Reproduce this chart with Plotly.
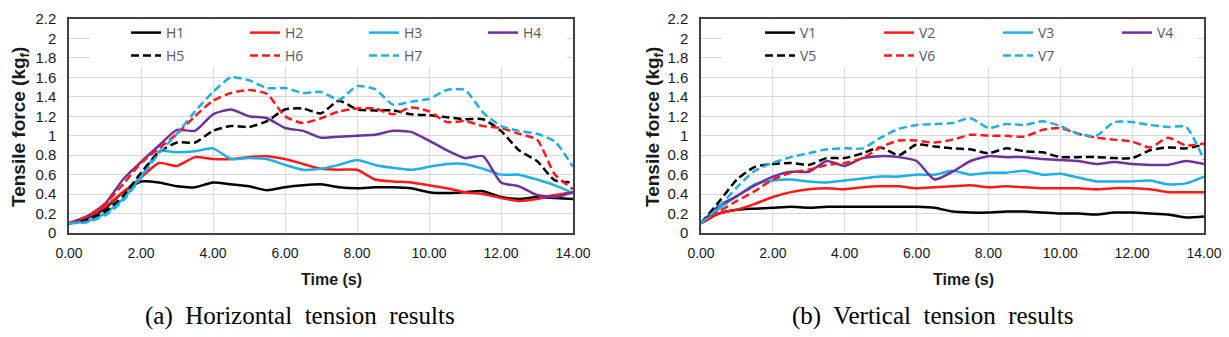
import plotly.graph_objects as go

# ---------------- data ----------------
T = [0.0, 0.5, 1.0, 1.5, 2.0, 2.5, 3.0, 3.5, 4.0, 4.5, 5.0, 5.5, 6.0, 6.5, 7.0,
     7.5, 8.0, 8.5, 9.0, 9.5, 10.0, 10.5, 11.0, 11.5, 12.0, 12.5, 13.0, 13.5, 14.0]

H1 = [0.10, 0.15, 0.25, 0.42, 0.53, 0.52, 0.48, 0.47, 0.52, 0.50, 0.48, 0.44, 0.47, 0.49, 0.50,
      0.47, 0.46, 0.47, 0.47, 0.46, 0.42, 0.41, 0.42, 0.43, 0.37, 0.35, 0.37, 0.36, 0.35]
H2 = [0.10, 0.16, 0.27, 0.42, 0.57, 0.72, 0.69, 0.78, 0.76, 0.76, 0.78, 0.79, 0.76, 0.71, 0.66,
      0.65, 0.65, 0.55, 0.53, 0.52, 0.49, 0.46, 0.42, 0.40, 0.36, 0.33, 0.35, 0.39, 0.42]
H3 = [0.10, 0.12, 0.20, 0.35, 0.58, 0.84, 0.83, 0.84, 0.87, 0.76, 0.77, 0.76, 0.70, 0.65, 0.66,
      0.70, 0.75, 0.70, 0.67, 0.65, 0.68, 0.71, 0.71, 0.66, 0.60, 0.60, 0.55, 0.49, 0.41]
H4 = [0.10, 0.17, 0.30, 0.55, 0.73, 0.90, 1.06, 1.05, 1.22, 1.27, 1.20, 1.18, 1.08, 1.05, 0.98,
      0.99, 1.00, 1.01, 1.05, 1.04, 0.95, 0.85, 0.77, 0.79, 0.52, 0.48, 0.39, 0.37, 0.42]
H5 = [0.10, 0.14, 0.22, 0.38, 0.62, 0.83, 0.93, 0.93, 1.05, 1.10, 1.09, 1.15, 1.27, 1.28, 1.23,
      1.36, 1.27, 1.26, 1.26, 1.22, 1.21, 1.19, 1.17, 1.17, 1.05, 0.85, 0.74, 0.54, 0.52]
H6 = [0.10, 0.17, 0.30, 0.50, 0.72, 0.87, 1.02, 1.20, 1.36, 1.44, 1.47, 1.43, 1.20, 1.13, 1.18,
      1.25, 1.28, 1.28, 1.22, 1.29, 1.25, 1.14, 1.15, 1.10, 1.08, 1.02, 0.96, 0.60, 0.45]
H7 = [0.10, 0.11, 0.18, 0.33, 0.57, 0.82, 1.02, 1.25, 1.45, 1.60, 1.57, 1.49, 1.49, 1.44, 1.45,
      1.37, 1.51, 1.48, 1.32, 1.35, 1.38, 1.47, 1.47, 1.24, 1.10, 1.05, 1.02, 0.94, 0.68]

V1 = [0.10, 0.20, 0.24, 0.25, 0.26, 0.27, 0.26, 0.27, 0.27, 0.27, 0.27, 0.27, 0.27, 0.26, 0.22,
      0.21, 0.21, 0.22, 0.22, 0.21, 0.20, 0.20, 0.19, 0.21, 0.21, 0.20, 0.19, 0.16, 0.17]
V2 = [0.10, 0.20, 0.24, 0.30, 0.37, 0.42, 0.45, 0.46, 0.45, 0.47, 0.48, 0.48, 0.46, 0.47, 0.48,
      0.49, 0.47, 0.48, 0.47, 0.46, 0.46, 0.46, 0.45, 0.46, 0.46, 0.45, 0.42, 0.42, 0.42]
V3 = [0.10, 0.25, 0.38, 0.50, 0.54, 0.55, 0.53, 0.52, 0.54, 0.56, 0.58, 0.58, 0.60, 0.60, 0.64,
      0.60, 0.62, 0.62, 0.64, 0.60, 0.61, 0.57, 0.53, 0.53, 0.53, 0.54, 0.50, 0.51, 0.58]
V4 = [0.10, 0.28, 0.38, 0.49, 0.58, 0.63, 0.63, 0.74, 0.69, 0.77, 0.79, 0.78, 0.74, 0.55, 0.63,
      0.74, 0.79, 0.78, 0.78, 0.76, 0.75, 0.74, 0.71, 0.73, 0.71, 0.70, 0.70, 0.74, 0.71]
V5 = [0.10, 0.32, 0.55, 0.68, 0.71, 0.72, 0.70, 0.77, 0.77, 0.82, 0.88, 0.80, 0.91, 0.89, 0.87,
      0.86, 0.82, 0.87, 0.84, 0.83, 0.78, 0.78, 0.78, 0.77, 0.77, 0.85, 0.88, 0.87, 0.91]
V6 = [0.10, 0.22, 0.33, 0.43, 0.55, 0.62, 0.65, 0.70, 0.72, 0.77, 0.88, 0.95, 0.95, 0.93, 0.96,
      1.01, 1.00, 1.00, 0.99, 1.06, 1.08, 1.02, 0.98, 0.96, 0.94, 0.88, 0.98, 0.90, 0.92]
V7 = [0.10, 0.27, 0.47, 0.64, 0.72, 0.78, 0.82, 0.86, 0.87, 0.87, 0.98, 1.07, 1.11, 1.12, 1.13,
      1.18, 1.08, 1.12, 1.11, 1.15, 1.10, 1.02, 1.00, 1.14, 1.14, 1.11, 1.09, 1.09, 0.75]

H_NAMES = ["H1", "H2", "H3", "H4", "H5", "H6", "H7"]
V_NAMES = ["V1", "V2", "V3", "V4", "V5", "V6", "V7"]
H_DATA = [H1, H2, H3, H4, H5, H6, H7]
V_DATA = [V1, V2, V3, V4, V5, V6, V7]

COLORS = ["#000000", "#FF1A1A", "#1EAEE8", "#7030A0", "#000000", "#FF1A1A", "#1EAEE8"]
DASHES = ["solid", "solid", "solid", "solid", "8px,4px", "8px,4px", "8px,4px"]

Y_TICKS = [0, 0.2, 0.4, 0.6, 0.8, 1.0, 1.2, 1.4, 1.6, 1.8, 2.0, 2.2]
Y_TICKTEXT = ["0", "0.2", "0.4", "0.6", "0.8", "1", "1.2", "1.4", "1.6", "1.8", "2", "2.2"]
X_TICKS = [0, 2, 4, 6, 8, 10, 12, 14]
X_TICKTEXT = ["0.00", "2.00", "4.00", "6.00", "8.00", "10.00", "12.00", "14.00"]

W, H = 1229, 337

# ---------------- figure ----------------
fig = go.Figure()

def add_series(names, datas, xa, ya, leg_a, leg_b):
    for i, (nm, vals) in enumerate(zip(names, datas)):
        fig.add_trace(go.Scatter(
            x=T, y=vals, mode="lines", name=nm,
            line=dict(color=COLORS[i], width=2.5, dash=DASHES[i], shape="spline", smoothing=0.6),
            xaxis=xa, yaxis=ya, legend=leg_a if i < 4 else leg_b,
            hoverinfo="skip",
        ))

add_series(H_NAMES, H_DATA, "x", "y", "legend", "legend2")
add_series(V_NAMES, V_DATA, "x2", "y2", "legend3", "legend4")

def px_x(p):
    return p / W

def px_y(p):
    return 1 - p / H

axis_common = dict(
    showgrid=True, gridcolor="#D9D9D9", gridwidth=1,
    showline=True, linecolor="#404040", linewidth=1.5, mirror=True,
    zeroline=False, ticks="", fixedrange=True,
)

xa = dict(axis_common, range=[0, 14], tickvals=X_TICKS, ticktext=X_TICKTEXT,
          tickfont=dict(family="Liberation Sans", size=14, color="#1a1a1a"),
          ticklabelstandoff=6)
ya = dict(axis_common, range=[0, 2.2], tickvals=Y_TICKS, ticktext=Y_TICKTEXT,
          tickfont=dict(family="Liberation Sans", size=15, color="#1a1a1a"),
          ticklabelstandoff=8)

y_dom = [px_y(233), px_y(19)]

leg_common = dict(
    orientation="h", xanchor="left", yanchor="top",
    bgcolor="rgba(0,0,0,0)", entrywidth=74, entrywidthmode="pixels",
    font=dict(family="Open Sans", size=14, color="#595959"),
    itemclick=False, itemdoubleclick=False, traceorder="normal",
)

fig.update_layout(
    width=W, height=H,
    margin=dict(l=0, r=0, t=0, b=0, autoexpand=False),
    paper_bgcolor="white", plot_bgcolor="white",
    showlegend=True,
    xaxis=dict(xa, domain=[px_x(69), px_x(573)], anchor="y"),
    yaxis=dict(ya, domain=y_dom, anchor="x"),
    xaxis2=dict(xa, domain=[px_x(701), px_x(1204)], anchor="y2"),
    yaxis2=dict(ya, domain=y_dom, anchor="x2"),
    legend=dict(leg_common, x=px_x(126), y=px_y(17)),
    legend2=dict(leg_common, x=px_x(126), y=px_y(40)),
    legend3=dict(leg_common, x=px_x(760), y=px_y(17)),
    legend4=dict(leg_common, x=px_x(760), y=px_y(40)),
    shapes=[
        dict(type="rect", xref="paper", yref="paper",
             x0=px_x(90), x1=px_x(567), y0=px_y(67), y1=px_y(20),
             fillcolor="white", line=dict(width=0), layer="above"),
        dict(type="rect", xref="paper", yref="paper",
             x0=px_x(722), x1=px_x(1197), y0=px_y(67), y1=px_y(20),
             fillcolor="white", line=dict(width=0), layer="above"),
    ],
)

ann = []
for cx in (20, 654):
    ann.append(dict(text="<b>Tensile force (kg<sub>f</sub>)</b>", x=px_x(cx), y=px_y(127),
                    xref="paper", yref="paper", showarrow=False, textangle=-90,
                    xanchor="center", yanchor="middle",
                    font=dict(family="Liberation Sans", size=19, color="#1a1a1a")))
for cx in (332, 964):
    ann.append(dict(text="<b>Time (s)</b>", x=px_x(cx), y=px_y(279),
                    xref="paper", yref="paper", showarrow=False,
                    xanchor="center", yanchor="middle",
                    font=dict(family="Liberation Sans", size=16, color="#1a1a1a")))
CAPTIONS = ["(a)\u00a0 Horizontal\u00a0 tension\u00a0 results",
            "(b)\u00a0 Vertical\u00a0 tension\u00a0 results"]
for cx, txt in zip((300, 932), CAPTIONS):
    ann.append(dict(text=txt, x=px_x(cx), y=px_y(316),
                    xref="paper", yref="paper", showarrow=False,
                    xanchor="center", yanchor="middle",
                    font=dict(family="Liberation Serif", size=25, color="#000000")))
fig.update_layout(annotations=ann)

fig.write_html("out.html")
